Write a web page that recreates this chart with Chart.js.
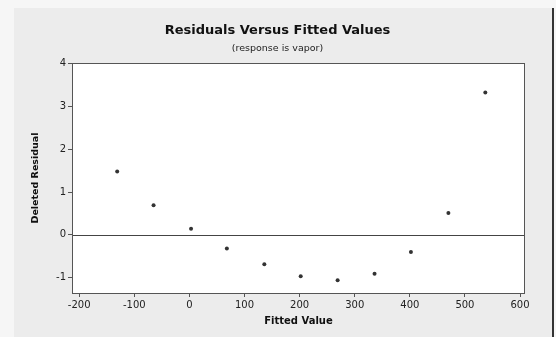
<!DOCTYPE html>
<html>
<head>
<meta charset="utf-8">
<script src="https://cdn.jsdelivr.net/npm/chart.js@4/dist/chart.umd.min.js"></script>
<style>
  html, body { margin: 0; padding: 0; background: #f6f6f6; }
  #wrap { position: relative; width: 556px; height: 337px; }
</style>
</head>
<body>
<div id="wrap"><canvas id="chart" width="556" height="337"></canvas></div>
<script>
// fitted values and deleted residuals
const fittedValues = [-131, -65, 3, 68, 136, 202, 269, 336, 402, 470, 537];
const deletedResiduals = [1.48, 0.69, 0.14, -0.32, -0.69, -0.97, -1.06, -0.91, -0.40, 0.51, 3.33];
const xTicks = [-200, -100, 0, 100, 200, 300, 400, 500, 600];
const yTicks = [-1, 0, 1, 2, 3, 4];
const refLine = 0;

const FONT = "'DejaVu Sans', sans-serif";

// panel background, reference line, plot frame
const decor = {
    id: 'decor',
    beforeDraw(chart) {
        const { ctx, chartArea: a } = chart;
        ctx.save();
        ctx.fillStyle = '#ececec';
        ctx.fillRect(14, 8, 538, 329);
        ctx.strokeStyle = '#333';
        ctx.lineWidth = 2;
        ctx.beginPath();
        ctx.moveTo(553, 8);
        ctx.lineTo(553, 337);
        ctx.stroke();
        ctx.fillStyle = '#ffffff';
        ctx.fillRect(a.left, a.top, a.right - a.left, a.bottom - a.top);
        ctx.restore();
    },
    afterDatasetsDraw(chart) {
        const { ctx, chartArea: a, scales } = chart;
        const y = Math.round(scales.y.getPixelForValue(refLine)) + 0.5;
        ctx.save();
        ctx.strokeStyle = '#444';
        ctx.lineWidth = 1;
        ctx.beginPath();
        ctx.moveTo(a.left, y);
        ctx.lineTo(a.right, y);
        ctx.stroke();
        ctx.strokeStyle = '#555';
        ctx.strokeRect(Math.round(a.left) + 0.5, Math.round(a.top) + 0.5,
            Math.round(a.right - a.left) - 1, Math.round(a.bottom - a.top));
        ctx.restore();
    }
};

const axisGrid = { display: true, drawOnChartArea: false, color: 'transparent', drawTicks: true, tickLength: 4, tickColor: '#555' };

const ctx = document.getElementById('chart').getContext('2d');
new Chart(ctx, {
    type: 'scatter',
    data: {
        datasets: [{
            data: fittedValues.map((x, i) => ({ x: x, y: deletedResiduals[i] })),
            backgroundColor: '#333',
            borderColor: '#333',
            pointRadius: 2,
            borderWidth: 0
        }]
    },
    options: {
        responsive: false,
        animation: false,
        layout: { padding: { left: 30, right: 31, top: 0, bottom: 10 } },
        plugins: {
            legend: { display: false },
            tooltip: { enabled: false },
            title: {
                display: true,
                text: 'Residuals Versus Fitted Values',
                color: '#111',
                font: { family: FONT, size: 13, weight: 'bold' },
                padding: { top: 23, bottom: 0 }
            },
            subtitle: {
                display: true,
                text: '(response is vapor)',
                color: '#222',
                font: { family: FONT, size: 9.5 },
                padding: { top: 4, bottom: 9 }
            }
        },
        scales: {
            x: {
                type: 'linear',
                min: -213,
                max: 609,
                afterBuildTicks: s => { s.ticks = xTicks.map(v => ({ value: v })); },
                afterFit: s => { s.height = 34; },
                grid: axisGrid,
                border: { display: false },
                ticks: { color: '#222', padding: 2, font: { family: FONT, size: 10 }, maxRotation: 0 },
                title: {
                    display: true,
                    text: 'Fitted Value',
                    color: '#111',
                    font: { family: FONT, size: 10, weight: 'bold' },
                    padding: { top: 0, bottom: 0 }
                }
            },
            y: {
                type: 'linear',
                min: -1.36,
                max: 4.02,
                afterBuildTicks: s => { s.ticks = yTicks.map(v => ({ value: v })); },
                afterFit: s => { s.width = 42; },
                grid: axisGrid,
                border: { display: false },
                ticks: { color: '#222', padding: 2, font: { family: FONT, size: 10 } },
                title: {
                    display: true,
                    text: 'Deleted Residual',
                    color: '#111',
                    font: { family: FONT, size: 9.5, weight: 'bold' },
                    padding: { top: 0, bottom: 8 }
                }
            }
        }
    },
    plugins: [decor]
});
</script>
</body>
</html>
